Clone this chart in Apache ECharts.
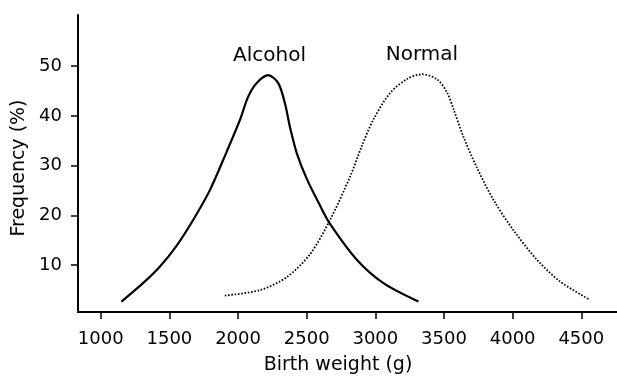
<!DOCTYPE html>
<html>
<head>
<meta charset="utf-8">
<script src="https://cdn.jsdelivr.net/npm/echarts@6/dist/echarts.min.js"></script>
<style>
  html, body { margin: 0; padding: 0; background: #fff; }
  #chart { width: 617px; height: 376px; }
</style>
</head>
<body>
<div id="chart"></div>
<script>
// birth weight distributions
const alcoholX = [1151, 1308, 1430, 1552, 1673, 1795, 1917, 2014, 2074, 2135, 2220, 2293, 2342, 2378, 2427, 2500, 2597, 2670, 2865, 3059, 3314]
const alcoholY = [2.7, 6.4, 9.7, 13.9, 19.1, 25.1, 32.8, 39.2, 43.9, 46.6, 48.2, 46.6, 42.5, 37.8, 32.6, 27.4, 22.0, 18.3, 11.1, 6.4, 2.7]
const normalX = [1904, 2159, 2354, 2524, 2670, 2816, 2901, 2986, 3107, 3229, 3340, 3448, 3521, 3569, 3642, 3740, 3861, 4007, 4177, 4347, 4553]
const normalY = [3.9, 5.0, 7.6, 12.2, 19.1, 27.8, 33.9, 39.3, 44.6, 47.4, 48.4, 47.4, 44.8, 41.4, 35.8, 29.6, 23.1, 17.0, 11.1, 6.7, 3.2]
const xTicks = [1000, 1500, 2000, 2500, 3000, 3500, 4000, 4500]
const yTicks = [10, 20, 30, 40, 50]
const curveNames = ['Alcohol', 'Normal']
const labelPos = [[2229, 52.1], [3339, 52.3]]

const font = 'DejaVu Sans'
const chart = echarts.init(document.getElementById('chart'), null, { renderer: 'canvas' })

function pairs(xs, ys) {
  return xs.map((x, i) => [x, ys[i]])
}

function nameMark(i) {
  return {
    symbol: 'circle',
    symbolSize: 1,
    itemStyle: { color: 'rgba(0,0,0,0)' },
    label: {
      show: true,
      position: 'inside',
      formatter: '{b}',
      color: '#000',
      fontFamily: font,
      fontSize: 20
    },
    data: [{ name: curveNames[i], coord: labelPos[i] }]
  }
}

const option = {
  animation: false,
  backgroundColor: '#fff',
  grid: { left: 78, right: 0, top: 15, bottom: 64, containLabel: false },
  xAxis: {
    type: 'value',
    min: 834.5,
    max: 4760,
    splitLine: { show: false },
    axisLine: { onZero: false, lineStyle: { color: '#000', width: 2 } },
    axisTick: { customValues: xTicks, length: 7, lineStyle: { color: '#000', width: 1.5 } },
    axisLabel: {
      customValues: xTicks, margin: 18, color: '#000', fontFamily: font, fontSize: 18,
      formatter: v => String(v)
    }
  },
  yAxis: {
    type: 'value',
    min: 0.6,
    max: 60.3,
    splitLine: { show: false },
    axisLine: { show: true, onZero: false, lineStyle: { color: '#000', width: 2 } },
    axisTick: { show: true, customValues: yTicks, length: 7, lineStyle: { color: '#000', width: 1.5 } },
    axisLabel: { customValues: yTicks, margin: 16, color: '#000', fontFamily: font, fontSize: 18 }
  },
  graphic: [
    {
      type: 'text',
      x: 338, y: 365,
      style: { text: 'Birth weight (g)', fill: '#000', font: '19px "DejaVu Sans"', align: 'center', verticalAlign: 'middle' }
    },
    {
      type: 'text',
      x: 19, y: 168,
      rotation: Math.PI / 2,
      style: { text: 'Frequency (%)', fill: '#000', font: '19px "DejaVu Sans"', align: 'center', verticalAlign: 'middle' }
    }
  ],
  series: [
    {
      name: 'Alcohol',
      type: 'line',
      data: pairs(alcoholX, alcoholY),
      smooth: 0.3,
      showSymbol: false,
      lineStyle: { color: '#000', width: 2.2, type: 'solid' },
      markPoint: nameMark(0)
    },
    {
      name: 'Normal',
      type: 'line',
      data: pairs(normalX, normalY),
      smooth: 0.3,
      showSymbol: false,
      lineStyle: { color: '#000', width: 1.8, type: [1.6, 1.7] },
      markPoint: nameMark(1)
    }
  ]
}

chart.setOption(option)
</script>
</body>
</html>
